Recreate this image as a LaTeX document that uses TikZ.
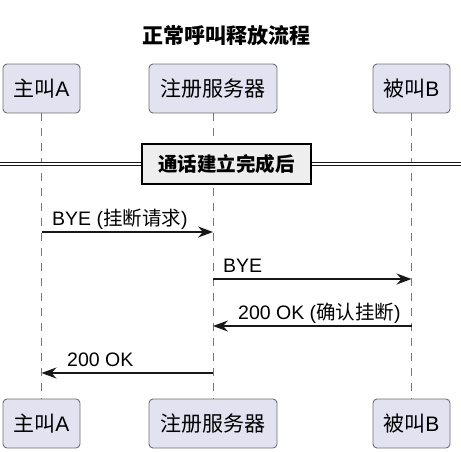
\documentclass[tikz,border=0pt]{standalone}
\usepackage{fontspec}
\setmainfont{Liberation Sans}
\newfontfamily\cjk{Noto Sans CJK SC}
\usepackage{tikz}
\usetikzlibrary{arrows.meta,positioning,calc}
\definecolor{partfill}{RGB}{226,226,240}
\definecolor{partline}{RGB}{112,112,112}
\definecolor{lifecol}{RGB}{120,120,120}
\definecolor{divfill}{RGB}{238,238,238}
\definecolor{ink}{RGB}{24,24,24}
\tikzset{
  part/.style  ={rectangle,rounded corners=4pt,draw=partline,line width=0.9pt,fill=partfill,minimum height=49pt,inner sep=0pt,font=\fontsize{21}{25}\selectfont},
  life/.style  ={lifecol,line width=0.9pt,dash pattern=on 7.5pt off 7.5pt},
  msg/.style   ={ink,line width=1.4pt,-{Stealth[length=15pt,width=11pt,inset=5pt]}},
  txt/.style   ={anchor=base west,inner sep=0pt,font=\fontsize{19.5}{23}\selectfont},
  divbox/.style={rectangle,draw=black,line width=2pt,fill=divfill,minimum width=169pt,minimum height=40pt,inner sep=0pt,font=\bfseries\fontsize{19.5}{23}\selectfont},
  dbl/.style   ={ink,line width=1.1pt,double=white,double distance=2.6pt},
}

\begin{document}
\begin{tikzpicture}[x=1pt,y=-1pt]
  \useasboundingbox (0,0) rectangle (461,451);
  \node[font=\bfseries\fontsize{21}{25}\selectfont] (title) at (226.5,35){\cjk 正常呼叫释放流程};
  % participants, top and bottom
  \node[part,minimum width=77pt]  (a)  at (41.5,88.5){{\cjk 主叫}A};
  \node[part,minimum width=128pt] (s)  at (213,88.5){\cjk 注册服务器};
  \node[part,minimum width=77pt]  (b)  at (411.5,88.5){{\cjk 被叫}B};
  \node[part,minimum width=77pt]  (a2) at (41.5,423.5){{\cjk 主叫}A};
  \node[part,minimum width=128pt] (s2) at (213,423.5){\cjk 注册服务器};
  \node[part,minimum width=77pt]  (b2) at (411.5,423.5){{\cjk 被叫}B};
  \draw[life] (a)--(a2);
  \draw[life] (s)--(s2);
  \draw[life] (b)--(b2);
  % divider
  \coordinate (dl) at (0,164);
  \coordinate (dr) at (461,164);
  \node[divbox] (sep) at (226.5,164){\cjk 通话建立完成后};
  \draw[dbl] (dl)--(sep.west);
  \draw[dbl] (sep.east)--(dr);
  % messages
  \draw[msg] (a |- 0,232)--(s |- 0,232);
  \draw[msg] (s |- 0,279)--(b |- 0,279);
  \draw[msg] (b |- 0,326)--(s |- 0,326);
  \draw[msg] (s |- 0,373)--(a |- 0,373);
  \node[txt] (m1) at (52,225){BYE ({\cjk 挂断请求})};
  \node[txt] (m2) at (223,272){BYE};
  \node[txt] (m3) at (238,319){200 OK ({\cjk 确认挂断})};
  \node[txt] (m4) at (67,366){200 OK};
\end{tikzpicture}
\end{document}
